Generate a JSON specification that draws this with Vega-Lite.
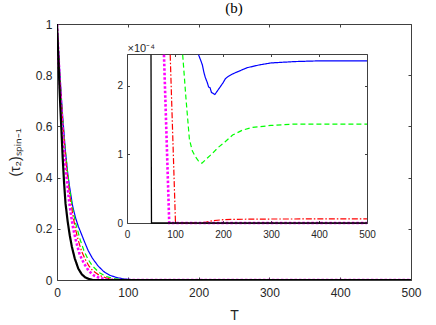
{
  "$schema": "https://vega.github.io/schema/vega-lite/v6.json",
  "width": 354,
  "height": 256,
  "autosize": {"type": "none"},
  "padding": {"left": 57, "top": 24, "right": 25, "bottom": 45},
  "background": "white",
  "title": {"text": "(b)", "font": "Liberation Serif", "fontSize": 15, "fontWeight": "normal", "color": "#000000", "anchor": "middle", "offset": 2},
  "config": {
    "view": {"stroke": null},
    "axis": {"domainColor": "#404040", "tickColor": "#404040", "labelColor": "#262626", "labelFont": "Liberation Sans", "titleFont": "Liberation Sans", "titleFontWeight": "normal", "titleColor": "#262626", "grid": false, "labelFontSize": 12, "titleFontSize": 14, "labelFlush": false, "labelOverlap": false}
  },
  "data": {"values": [
    {"s": "blue", "T": 0, "v": 1}, {"s": "blue", "T": 2, "v": 0.9}, {"s": "blue", "T": 4, "v": 0.81}, {"s": "blue", "T": 6, "v": 0.72}, {"s": "blue", "T": 8, "v": 0.64}, {"s": "blue", "T": 10, "v": 0.57}, {"s": "blue", "T": 12, "v": 0.5}, {"s": "blue", "T": 15, "v": 0.42}, {"s": "blue", "T": 18, "v": 0.36}, {"s": "blue", "T": 22, "v": 0.29}, {"s": "blue", "T": 26, "v": 0.245}, {"s": "blue", "T": 30, "v": 0.21}, {"s": "blue", "T": 33, "v": 0.19}, {"s": "blue", "T": 38, "v": 0.155}, {"s": "blue", "T": 44, "v": 0.115}, {"s": "blue", "T": 50, "v": 0.085}, {"s": "blue", "T": 58, "v": 0.055}, {"s": "blue", "T": 66, "v": 0.033}, {"s": "blue", "T": 75, "v": 0.018}, {"s": "blue", "T": 85, "v": 0.009}, {"s": "blue", "T": 95, "v": 0.004}, {"s": "blue", "T": 105, "v": 0.0018}, {"s": "blue", "T": 115, "v": 0.0009}, {"s": "blue", "T": 125, "v": 0.0005}, {"s": "blue", "T": 135, "v": 0.00035}, {"s": "blue", "T": 142, "v": 0.00028}, {"s": "blue", "T": 149, "v": 0.000245}, {"s": "blue", "T": 154, "v": 0.000236}, {"s": "blue", "T": 157, "v": 0.00023}, {"s": "blue", "T": 160, "v": 0.00022}, {"s": "blue", "T": 163, "v": 0.000212}, {"s": "blue", "T": 167, "v": 0.000205}, {"s": "blue", "T": 170, "v": 0.000198}, {"s": "blue", "T": 173, "v": 0.000197}, {"s": "blue", "T": 176, "v": 0.00019}, {"s": "blue", "T": 179, "v": 0.000189}, {"s": "blue", "T": 183, "v": 0.000187}, {"s": "blue", "T": 186, "v": 0.00019}, {"s": "blue", "T": 190, "v": 0.000194}, {"s": "blue", "T": 195, "v": 0.000199}, {"s": "blue", "T": 200, "v": 0.000204}, {"s": "blue", "T": 205, "v": 0.00021}, {"s": "blue", "T": 210, "v": 0.000213}, {"s": "blue", "T": 220, "v": 0.000217}, {"s": "blue", "T": 230, "v": 0.00022}, {"s": "blue", "T": 250, "v": 0.000226}, {"s": "blue", "T": 275, "v": 0.00023}, {"s": "blue", "T": 300, "v": 0.000233}, {"s": "blue", "T": 350, "v": 0.000235}, {"s": "blue", "T": 400, "v": 0.000236}, {"s": "blue", "T": 500, "v": 0.000236},
    {"s": "green", "T": 0, "v": 1}, {"s": "green", "T": 2, "v": 0.9}, {"s": "green", "T": 4, "v": 0.8}, {"s": "green", "T": 6, "v": 0.71}, {"s": "green", "T": 8, "v": 0.63}, {"s": "green", "T": 10, "v": 0.56}, {"s": "green", "T": 12, "v": 0.5}, {"s": "green", "T": 15, "v": 0.42}, {"s": "green", "T": 18, "v": 0.35}, {"s": "green", "T": 22, "v": 0.28}, {"s": "green", "T": 26, "v": 0.225}, {"s": "green", "T": 29, "v": 0.195}, {"s": "green", "T": 33, "v": 0.155}, {"s": "green", "T": 38, "v": 0.115}, {"s": "green", "T": 44, "v": 0.08}, {"s": "green", "T": 50, "v": 0.055}, {"s": "green", "T": 60, "v": 0.028}, {"s": "green", "T": 70, "v": 0.013}, {"s": "green", "T": 80, "v": 0.006}, {"s": "green", "T": 90, "v": 0.0025}, {"s": "green", "T": 100, "v": 0.001}, {"s": "green", "T": 108, "v": 0.0005}, {"s": "green", "T": 116, "v": 0.000245}, {"s": "green", "T": 123, "v": 0.00018}, {"s": "green", "T": 130, "v": 0.000122}, {"s": "green", "T": 136, "v": 0.000105}, {"s": "green", "T": 142, "v": 0.000097}, {"s": "green", "T": 149, "v": 0.00009}, {"s": "green", "T": 156, "v": 0.000087}, {"s": "green", "T": 165, "v": 0.000093}, {"s": "green", "T": 176, "v": 0.0001}, {"s": "green", "T": 190, "v": 0.00011}, {"s": "green", "T": 204, "v": 0.000118}, {"s": "green", "T": 220, "v": 0.000128}, {"s": "green", "T": 240, "v": 0.000135}, {"s": "green", "T": 260, "v": 0.000139}, {"s": "green", "T": 300, "v": 0.000142}, {"s": "green", "T": 350, "v": 0.000144}, {"s": "green", "T": 500, "v": 0.000144},
    {"s": "red", "T": 0, "v": 1}, {"s": "red", "T": 2, "v": 0.89}, {"s": "red", "T": 4, "v": 0.79}, {"s": "red", "T": 6, "v": 0.7}, {"s": "red", "T": 8, "v": 0.62}, {"s": "red", "T": 10, "v": 0.55}, {"s": "red", "T": 12, "v": 0.48}, {"s": "red", "T": 15, "v": 0.4}, {"s": "red", "T": 18, "v": 0.33}, {"s": "red", "T": 22, "v": 0.26}, {"s": "red", "T": 26, "v": 0.2}, {"s": "red", "T": 30, "v": 0.155}, {"s": "red", "T": 35, "v": 0.11}, {"s": "red", "T": 40, "v": 0.08}, {"s": "red", "T": 45, "v": 0.055}, {"s": "red", "T": 50, "v": 0.038}, {"s": "red", "T": 60, "v": 0.018}, {"s": "red", "T": 70, "v": 0.0075}, {"s": "red", "T": 80, "v": 0.0025}, {"s": "red", "T": 86, "v": 0.0008}, {"s": "red", "T": 90, "v": 0.000245}, {"s": "red", "T": 101, "v": 0}, {"s": "red", "T": 150, "v": 0}, {"s": "red", "T": 165, "v": 0.0000015}, {"s": "red", "T": 180, "v": 0.0000035}, {"s": "red", "T": 200, "v": 0.0000048}, {"s": "red", "T": 230, "v": 0.0000054}, {"s": "red", "T": 300, "v": 0.0000058}, {"s": "red", "T": 500, "v": 0.000006},
    {"s": "magenta", "T": 0, "v": 1}, {"s": "magenta", "T": 2, "v": 0.88}, {"s": "magenta", "T": 4, "v": 0.77}, {"s": "magenta", "T": 6, "v": 0.67}, {"s": "magenta", "T": 8, "v": 0.58}, {"s": "magenta", "T": 10, "v": 0.5}, {"s": "magenta", "T": 12, "v": 0.44}, {"s": "magenta", "T": 14, "v": 0.39}, {"s": "magenta", "T": 17, "v": 0.31}, {"s": "magenta", "T": 20, "v": 0.25}, {"s": "magenta", "T": 23, "v": 0.2}, {"s": "magenta", "T": 27, "v": 0.15}, {"s": "magenta", "T": 32, "v": 0.1}, {"s": "magenta", "T": 38, "v": 0.065}, {"s": "magenta", "T": 45, "v": 0.035}, {"s": "magenta", "T": 52, "v": 0.018}, {"s": "magenta", "T": 60, "v": 0.008}, {"s": "magenta", "T": 70, "v": 0.0025}, {"s": "magenta", "T": 77, "v": 0.000245}, {"s": "magenta", "T": 88, "v": 0}, {"s": "magenta", "T": 500, "v": 0},
    {"s": "black", "T": 0, "v": 1}, {"s": "black", "T": 2, "v": 0.86}, {"s": "black", "T": 4, "v": 0.72}, {"s": "black", "T": 6, "v": 0.6}, {"s": "black", "T": 8, "v": 0.48}, {"s": "black", "T": 10, "v": 0.38}, {"s": "black", "T": 12, "v": 0.3}, {"s": "black", "T": 15, "v": 0.23}, {"s": "black", "T": 18, "v": 0.175}, {"s": "black", "T": 21, "v": 0.13}, {"s": "black", "T": 25, "v": 0.085}, {"s": "black", "T": 30, "v": 0.045}, {"s": "black", "T": 35, "v": 0.022}, {"s": "black", "T": 40, "v": 0.01}, {"s": "black", "T": 45, "v": 0.004}, {"s": "black", "T": 50, "v": 0.000245}, {"s": "black", "T": 51, "v": 0}, {"s": "black", "T": 500, "v": 0}
  ]},
  "layer": [
    {
      "layer": [
        {
          "mark": {"type": "line", "clip": true, "strokeCap": "butt"},
          "encoding": {
            "x": {"field": "T", "type": "quantitative", "scale": {"domain": [0, 500], "nice": false, "zero": false},
                  "axis": {"orient": "bottom", "values": [0, 100, 200, 300, 400, 500], "tickSize": -3, "labelPadding": 10, "title": "T", "titlePadding": 10}},
            "y": {"field": "v", "type": "quantitative", "scale": {"domain": [0, 1], "nice": false},
                  "axis": {"orient": "left", "values": [0, 0.2, 0.4, 0.6, 0.8, 1], "format": "~g", "tickSize": -3, "labelPadding": 8, "title": "(τ₂)ₛₚᵢₙ₋₁", "titlePadding": 13}},
            "color": {"field": "s", "type": "nominal", "scale": {"domain": ["blue", "green", "red", "magenta", "black"], "range": ["#0000ff", "#00ff00", "#ff0000", "#ff00ff", "#000000"]}, "legend": null},
            "strokeDash": {"field": "s", "type": "nominal", "scale": {"domain": ["blue", "green", "red", "magenta", "black"], "range": [[1, 0], [5, 3], [6, 2, 1.5, 2], [2.5, 2], [1, 0]]}, "legend": null},
            "strokeWidth": {"field": "s", "type": "ordinal", "scale": {"type": "ordinal", "domain": ["blue", "green", "red", "magenta", "black"], "range": [1.2, 1.2, 1.2, 2.6, 2.2]}, "legend": null}
          }
        },
        {
          "mark": {"type": "line", "opacity": 0},
          "encoding": {
            "x": {"field": "T", "type": "quantitative", "axis": {"orient": "top", "values": [0, 100, 200, 300, 400, 500], "labels": false, "tickSize": -3, "title": null}},
            "y": {"field": "v", "type": "quantitative", "axis": {"orient": "right", "values": [0, 0.2, 0.4, 0.6, 0.8, 1], "labels": false, "tickSize": -3, "title": null}},
            "detail": {"field": "s"}
          }
        }
      ],
      "resolve": {"axis": {"x": "independent", "y": "independent"}}
    },
    {
      "transform": [{"filter": "datum.v <= 0.000246"}],
      "layer": [
        {
          "mark": {"type": "line", "strokeCap": "butt"},
          "encoding": {
            "x": {"field": "T", "type": "quantitative", "scale": {"domain": [0, 500], "range": [70, 310], "nice": false, "zero": false},
                  "axis": {"orient": "bottom", "offset": -57, "values": [0, 100, 200, 300, 400, 500], "tickSize": -2.5, "labelPadding": 9, "labelFontSize": 10, "title": null}},
            "y": {"field": "v", "type": "quantitative", "scale": {"domain": [0, 0.000246], "range": [199, 30], "nice": false},
                  "axis": {"orient": "left", "offset": -70, "values": [0, 0.0001, 0.0002], "labelExpr": "format(datum.value*10000, 'd')", "tickSize": -2.5, "labelPadding": 7, "labelFontSize": 10,
                           "title": "×10⁻⁴", "titleAngle": 0, "titleAlign": "left", "titleBaseline": "alphabetic", "titleX": 0, "titleY": 27, "titleFontSize": 11}},
            "color": {"field": "s", "type": "nominal", "legend": null},
            "strokeDash": {"field": "s", "type": "nominal", "legend": null},
            "strokeWidth": {"field": "s", "type": "ordinal", "scale": {"type": "ordinal", "domain": ["blue", "green", "red", "magenta", "black"], "range": [1.2, 1.2, 1.2, 2.6, 1.3]}, "legend": null}
          }
        },
        {
          "mark": {"type": "line", "opacity": 0},
          "encoding": {
            "x": {"field": "T", "type": "quantitative", "axis": {"orient": "top", "offset": -30, "values": [0, 100, 200, 300, 400, 500], "labels": false, "tickSize": -2.5, "title": null}},
            "y": {"field": "v", "type": "quantitative", "axis": {"orient": "right", "offset": -44, "values": [0, 0.0001, 0.0002], "labels": false, "tickSize": -2.5, "title": null}},
            "detail": {"field": "s"}
          }
        }
      ],
      "resolve": {"axis": {"x": "independent", "y": "independent"}}
    }
  ],
  "resolve": {"scale": {"x": "independent", "y": "independent", "strokeWidth": "independent"}}
}
